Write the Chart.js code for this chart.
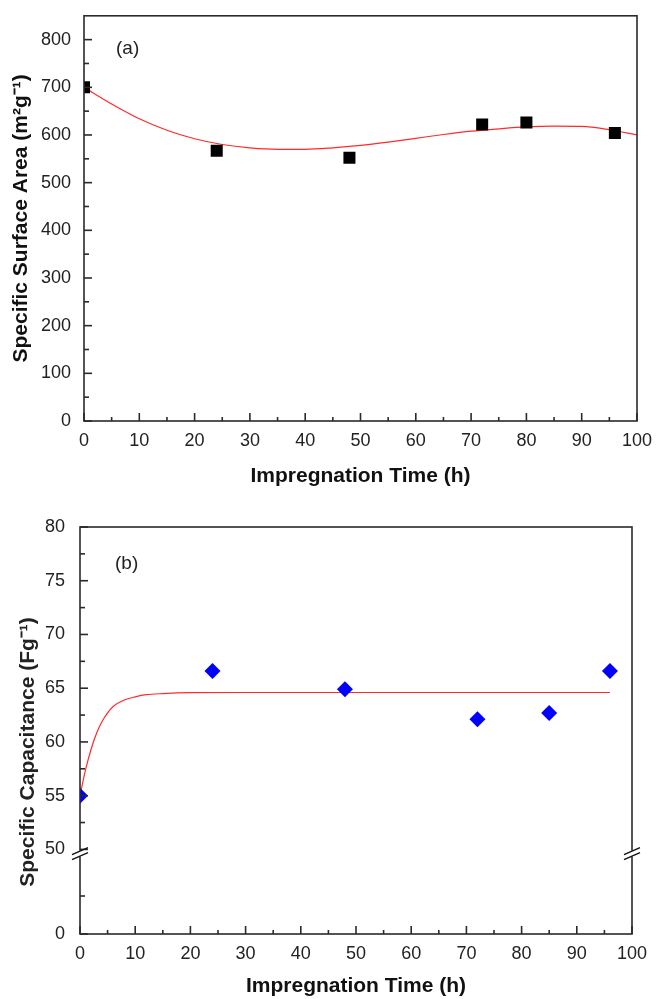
<!DOCTYPE html>
<html>
<head>
<meta charset="utf-8">
<script src="https://cdn.jsdelivr.net/npm/chart.js@4.4.0/dist/chart.umd.min.js"></script>
<style>
body { margin: 0; background: #fff; }
canvas { position: absolute; left: 0; }
</style>
</head>
<body>
<canvas id="chartA" width="656" height="500" style="top:0px"></canvas>
<canvas id="chartB" width="656" height="499" style="top:500px"></canvas>
<script>
// (a) surface area vs impregnation time
const timeA = [0, 24, 48, 72, 80, 96];
const areaA = [700, 567, 552, 622, 626, 604];
// red fitted curve
const fitTimeA = [0, 5, 10, 15, 20, 25, 30, 35, 40, 45, 50, 55, 60, 65, 70, 75, 80, 85, 90, 95, 100];
const fitAreaA = [700, 665, 634, 610, 592, 580, 573, 570, 570, 573, 578, 585, 593, 601, 608, 613, 617, 618.5, 618, 611, 600];

// (b) capacitance vs impregnation time
const timeB = [0, 24, 48, 72, 85, 96];
const capB = [55, 66.6, 64.9, 62.1, 62.7, 66.6];
const fitTimeB = [0, 1, 2, 3, 4, 5, 6, 8, 10, 12, 15, 20, 30, 40, 60, 80, 96];
const fitCapB = [55, 57.4, 59.3, 60.8, 61.9, 62.7, 63.3, 63.9, 64.2, 64.4, 64.5, 64.58, 64.6, 64.6, 64.6, 64.6, 64.6];

// ticks
const xTicks = [0, 10, 20, 30, 40, 50, 60, 70, 80, 90, 100];
const xMinor = [5, 15, 25, 35, 45, 55, 65, 75, 85, 95];
const yTicksA = [0, 100, 200, 300, 400, 500, 600, 700, 800];
const yMinorA = [50, 150, 250, 350, 450, 550, 650, 750];
const yTicksB = [50, 55, 60, 65, 70, 75, 80];
const yMinorB = [52.5, 57.5, 62.5, 67.5, 72.5, 77.5];
const yTicksBLow = [0];
const yMinorBLow = [25];

const fontName = "'Liberation Sans', Arial, sans-serif";
Chart.defaults.font.family = fontName;
Chart.defaults.color = '#222';

const axisColor = '#2a2a2a';

function pts(xs, ys) {
  return xs.map((x, i) => ({x: x, y: ys[i]}));
}
function setTicks(list) {
  return function(scale) { scale.ticks = list.map(v => ({value: v})); };
}

function drawTicks(ctx, scale, values, len, horizontal, edge) {
  values.forEach(v => {
    const p = scale.getPixelForValue(v);
    ctx.beginPath();
    if (horizontal) { ctx.moveTo(p, edge); ctx.lineTo(p, edge - len); }
    else { ctx.moveTo(edge, p); ctx.lineTo(edge + len, p); }
    ctx.stroke();
  });
}

function breakMark(ctx, x, y) {
  ctx.save();
  ctx.fillStyle = '#fff';
  ctx.fillRect(x - 3, y - 3, 6, 6);
  ctx.strokeStyle = '#111';
  ctx.lineWidth = 1.4;
  ctx.beginPath();
  ctx.moveTo(x - 8, y + 1); ctx.lineTo(x + 8, y - 6);
  ctx.moveTo(x - 8, y + 6); ctx.lineTo(x + 8, y - 1);
  ctx.stroke();
  ctx.restore();
}

const frameA = {
  id: 'frameA',
  afterDatasetsDraw(chart) {
    const ctx = chart.ctx, a = chart.chartArea;
    ctx.save();
    ctx.strokeStyle = axisColor;
    ctx.lineWidth = 1.6;
    ctx.strokeRect(a.left, a.top, a.right - a.left, a.bottom - a.top);
    drawTicks(ctx, chart.scales.x, xTicks, 8, true, a.bottom);
    drawTicks(ctx, chart.scales.x, xMinor, 4, true, a.bottom);
    drawTicks(ctx, chart.scales.y, yTicksA, 8, false, a.left);
    drawTicks(ctx, chart.scales.y, yMinorA, 5, false, a.left);
    ctx.fillStyle = '#222';
    ctx.font = '19px ' + fontName;
    ctx.textBaseline = 'middle';
    ctx.fillText('(a)', 116, 49);
    ctx.restore();
  }
};

const frameB = {
  id: 'frameB',
  afterDatasetsDraw(chart) {
    const ctx = chart.ctx, a = chart.chartArea;
    const yUp = chart.scales.y, yLow = chart.scales.yLow;
    ctx.save();
    ctx.strokeStyle = axisColor;
    ctx.lineWidth = 1.6;
    ctx.strokeRect(a.left, a.top, a.right - a.left, a.bottom - a.top);
    drawTicks(ctx, chart.scales.x, xTicks, 8, true, a.bottom);
    drawTicks(ctx, chart.scales.x, xMinor, 4, true, a.bottom);
    drawTicks(ctx, yUp, yTicksB, 8, false, a.left);
    drawTicks(ctx, yUp, yMinorB, 5, false, a.left);
    drawTicks(ctx, yLow, yTicksBLow, 8, false, a.left);
    drawTicks(ctx, yLow, yMinorBLow, 5, false, a.left);
    const yb = (yUp.getPixelForValue(50) + yLow.getPixelForValue(50)) / 2;
    breakMark(ctx, a.left, yb);
    breakMark(ctx, a.right, yb);
    ctx.fillStyle = '#222';
    ctx.font = '19px ' + fontName;
    ctx.textBaseline = 'middle';
    ctx.fillText('(b)', 115, 64);
    // y title spans both parts of the broken axis
    ctx.font = 'bold 21px ' + fontName;
    ctx.textAlign = 'center';
    ctx.translate(28, 252);
    ctx.rotate(-Math.PI / 2);
    ctx.fillText('Specific Capacitance (Fg\u207B\u00B9)', 0, 0);
    ctx.restore();
  }
};

new Chart(document.getElementById('chartA'), {
  type: 'scatter',
  data: {
    datasets: [
      {
        label: 'Surface area',
        data: pts(timeA, areaA),
        pointStyle: 'rect',
        pointRadius: 8.5,
        backgroundColor: '#000',
        borderWidth: 0,
        clip: 0,
        order: 1
      },
      {
        label: 'Fit',
        type: 'line',
        data: pts(fitTimeA, fitAreaA),
        borderColor: '#ff2b2b',
        borderWidth: 1.2,
        pointRadius: 0,
        cubicInterpolationMode: 'monotone',
        fill: false,
        clip: 0,
        order: 2
      }
    ]
  },
  options: {
    responsive: false,
    animation: false,
    layout: {padding: {top: 13, right: 19, left: 0, bottom: 0}},
    plugins: {legend: {display: false}, tooltip: {enabled: false}},
    scales: {
      x: {
        type: 'linear', min: 0, max: 100,
        afterBuildTicks: setTicks(xTicks),
        afterFit: s => { s.height = 79; },
        grid: {display: false}, border: {display: false},
        ticks: {padding: 1, font: {size: 18}, maxRotation: 0, color: '#222'},
        title: {display: true, text: 'Impregnation Time (h)', font: {size: 21, weight: 'bold'},
                padding: {top: 0, bottom: 11}, color: '#111'}
      },
      y: {
        type: 'linear', min: 0, max: 850,
        afterBuildTicks: setTicks(yTicksA),
        afterFit: s => { s.width = 84; },
        grid: {display: false}, border: {display: false},
        ticks: {padding: 5, font: {size: 18}, color: '#222'},
        title: {display: true, text: 'Specific Surface Area (m\u00B2g\u207B\u00B9)', font: {size: 21, weight: 'bold'},
                padding: {top: 9, bottom: 0}, color: '#111'}
      }
    }
  },
  plugins: [frameA]
});

new Chart(document.getElementById('chartB'), {
  type: 'scatter',
  data: {
    datasets: [
      {
        label: 'Capacitance',
        data: pts(timeB, capB),
        yAxisID: 'y',
        pointStyle: 'rectRot',
        pointRadius: 8,
        backgroundColor: '#0000ff',
        borderWidth: 0,
        clip: 0,
        order: 1
      },
      {
        label: 'Fit',
        type: 'line',
        data: pts(fitTimeB, fitCapB),
        yAxisID: 'y',
        borderColor: '#ff2b2b',
        borderWidth: 1.2,
        pointRadius: 0,
        cubicInterpolationMode: 'monotone',
        fill: false,
        clip: 0,
        order: 2
      }
    ]
  },
  options: {
    responsive: false,
    animation: false,
    layout: {padding: {top: 27, right: 24, left: 0, bottom: 0}},
    plugins: {legend: {display: false}, tooltip: {enabled: false}},
    scales: {
      x: {
        type: 'linear', min: 0, max: 100,
        afterBuildTicks: setTicks(xTicks),
        afterFit: s => { s.height = 65; },
        grid: {display: false}, border: {display: false},
        ticks: {padding: 1, font: {size: 18}, maxRotation: 0, color: '#222'},
        title: {display: true, text: 'Impregnation Time (h)', font: {size: 21, weight: 'bold'},
                padding: {top: 0, bottom: 0}, color: '#111'}
      },
      yLow: {
        type: 'linear', position: 'left', stack: 'cap', stackWeight: 76,
        min: 0, max: 50,
        afterBuildTicks: setTicks(yTicksBLow),
        afterFit: s => { s.width = 80; },
        grid: {display: false}, border: {display: false},
        ticks: {padding: 7, font: {size: 18}, color: '#222'}
      },
      y: {
        type: 'linear', position: 'left', stack: 'cap', stackWeight: 331,
        min: 49.2, max: 80,
        afterBuildTicks: setTicks(yTicksB),
        afterFit: s => { s.width = 80; },
        grid: {display: false}, border: {display: false},
        ticks: {padding: 7, font: {size: 18}, color: '#222'}
      }
    }
  },
  plugins: [frameB]
});
</script>
</body>
</html>
